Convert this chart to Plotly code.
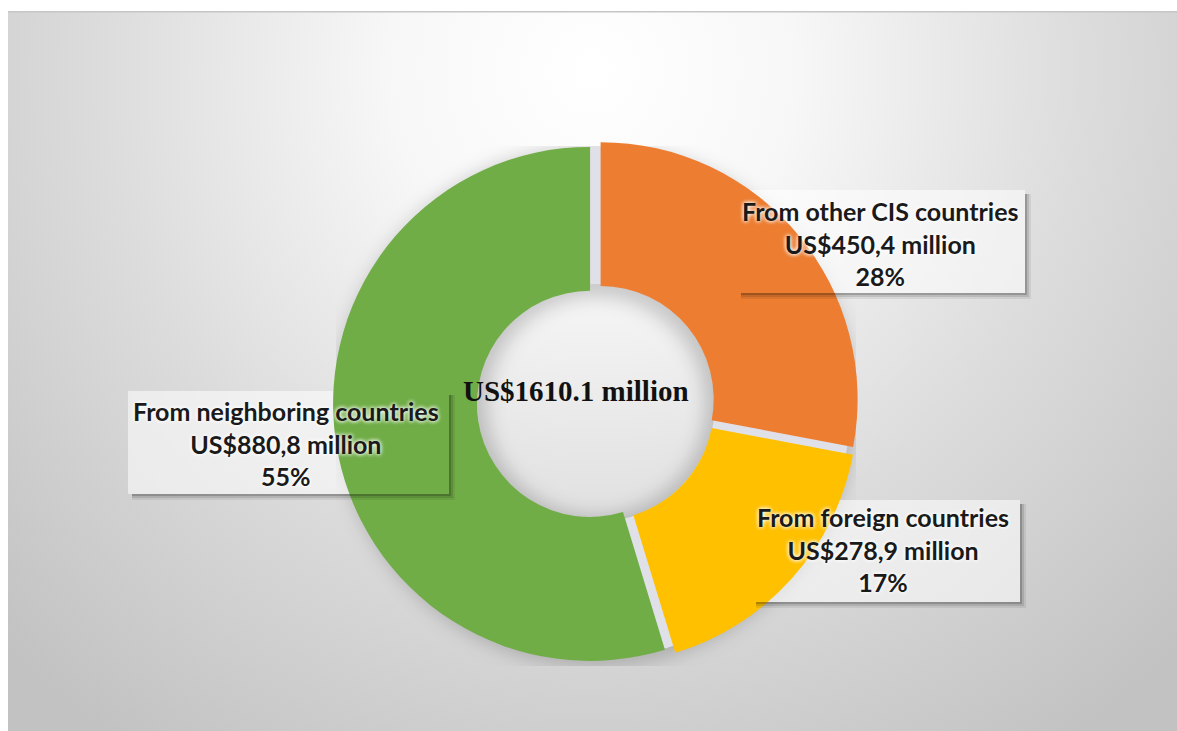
import base64
import plotly.graph_objects as go

# ---- data ----
categories = ["From other CIS countries", "From foreign countries", "From neighboring countries"]
values = [450.4, 278.9, 880.8]
colors = ["#ED7D31", "#FFC000", "#70AD47"]
center_label = "US$1610.1 million"

W, H = 1177, 731
OFF = 8  # page body margin
total = sum(values)


def px(x):
    return (x - OFF) / W


def py(y):
    return 1 - (y - OFF) / H


def fmt(v):
    return f"{v:.1f}".replace(".", ",")


fig = go.Figure()

# pie geometry (screen pixels)
cx, cy, R = 596, 403, 257
pull = 0.0233
hole = 0.44
half = R * (1 + pull)
fig.add_trace(go.Pie(
    labels=categories,
    values=values,
    hole=hole,
    sort=False,
    direction="clockwise",
    rotation=0,
    pull=pull,
    textinfo="none",
    marker=dict(colors=colors, line=dict(width=0)),
    domain=dict(x=[px(cx - half), px(cx + half)], y=[py(cy + half), py(cy - half)]),
    showlegend=False,
))

# background: radial gradient + soft shadow ring behind donut + light gap ring
fx, fy = 8, 11  # frame top-left on screen
bw, bh = W + 20 - fx, H + OFF - fy
scx, scy = cx - fx, cy - fy
rmid = (R + R * hole) / 2
r_in, r_out = R * hole + 6, R - 2
svg = (
    f'<svg xmlns="http://www.w3.org/2000/svg" width="{bw}" height="{bh}">'
    '<defs>'
    f'<radialGradient id="g" gradientUnits="userSpaceOnUse" cx="{(W - fx) / 2}" cy="60" r="820">'
    '<stop offset="0" stop-color="#ffffff"/>'
    '<stop offset="0.25" stop-color="#f7f7f7"/>'
    '<stop offset="0.6" stop-color="#dcdcdc"/>'
    '<stop offset="1" stop-color="#c2c2c2"/>'
    '</radialGradient>'
    '<filter id="b" x="-20%" y="-20%" width="140%" height="140%">'
    '<feGaussianBlur stdDeviation="9"/></filter>'
    '</defs>'
    '<rect width="100%" height="100%" fill="url(#g)"/>'
    f'<circle cx="{scx}" cy="{scy + 3}" r="{rmid}" fill="none" stroke="#000" '
    f'stroke-opacity="0.18" stroke-width="{R - R * hole + 8}" filter="url(#b)"/>'
    f'<circle cx="{scx}" cy="{scy}" r="{(r_in + r_out) / 2}" fill="none" stroke="#e0e0e8" '
    f'stroke-width="{r_out - r_in}"/>'
    '<rect x="0" y="0" width="100%" height="1.5" fill="#c6c6c6"/>'
    '</svg>'
)
src = "data:image/svg+xml;base64," + base64.b64encode(svg.encode()).decode()

shapes = []
annotations = []

# label boxes (screen pixels): x0, y0, x1, y1, text center x, text center y
boxes = [
    (737, 190, 1025, 293, 880, 243),
    (752, 500, 1020, 602, 883, 549),
    (128, 391, 449, 494, 286, 443),
]

for (x0, y0, x1, y1, tcx, tcy), cat, v in zip(boxes, categories, values):
    shapes.append(dict(type="rect", xref="paper", yref="paper", layer="below",
                       x0=px(x0), x1=px(x1), y0=py(y1), y1=py(y0),
                       fillcolor="rgba(255,255,255,0.55)", line=dict(width=0)))
    # blurred shadow on right and bottom
    for off, alpha in [(6, 0.07), (4, 0.11), (2, 0.18)]:
        path = (f"M {px(x1)} {py(y0 + 4)} L {px(x1 + off)} {py(y0 + 4)} "
                f"L {px(x1 + off)} {py(y1 + off)} L {px(x0 + 4)} {py(y1 + off)} "
                f"L {px(x0 + 4)} {py(y1)} L {px(x1)} {py(y1)} Z")
        shapes.append(dict(type="path", xref="paper", yref="paper", path=path,
                           fillcolor=f"rgba(0,0,0,{alpha})", line=dict(width=0)))
    pct = round(v / total * 100)
    annotations.append(dict(
        xref="paper", yref="paper", x=px(tcx), y=py(tcy),
        xanchor="center", yanchor="middle", showarrow=False, align="center",
        text=f"<b>{cat}<br>US${fmt(v)} million<br>{pct}%</b>",
        font=dict(family="Lato", size=25, color="#1a1a1a",
                  shadow="0px 0px 4px #ffffff, 0px 0px 4px #ffffff"),
    ))

annotations.append(dict(
    xref="paper", yref="paper", x=px(576), y=py(391),
    xanchor="center", yanchor="middle", showarrow=False,
    text=f"<b>{center_label}</b>",
    font=dict(family="Liberation Serif", size=29, color="#111111"),
))

fig.update_layout(
    width=W, height=H,
    margin=dict(l=0, r=0, t=0, b=0),
    paper_bgcolor="white",
    images=[dict(source=src, xref="paper", yref="paper", x=px(fx), y=py(fy),
                 sizex=bw / W, sizey=bh / H, xanchor="left", yanchor="top",
                 sizing="stretch", layer="below")],
    shapes=shapes,
    annotations=annotations,
)

fig.write_html(
    "out.html",
    post_script="document.body.style.overflow='hidden';"
                "document.body.style.marginRight='0px';",
)
